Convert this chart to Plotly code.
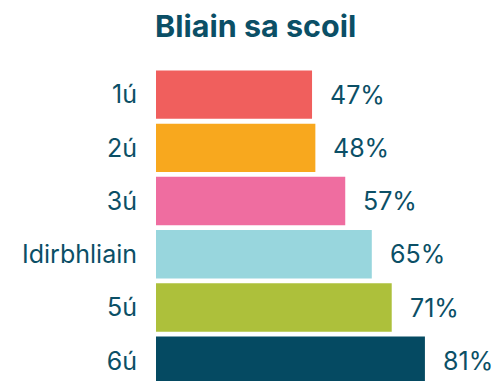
import plotly.graph_objects as go

# School-year categories and the share for each
years = ["1ú", "2ú", "3ú", "Idirbhliain", "5ú", "6ú"]
shares = [47, 48, 57, 65, 71, 81]
bar_colors = ["#F05F5D", "#F8A81E", "#EF6DA0", "#98D6DD", "#ADC03B", "#054A62"]

text_color = "#0B4F66"
font_family = "Inter, Roboto, sans-serif"

fig = go.Figure(
    go.Bar(
        x=shares,
        y=years,
        orientation="h",
        marker=dict(color=bar_colors, line=dict(width=0)),
        hoverinfo="skip",
    )
)

# Percentage labels just past the end of each bar
for yr, v in zip(years, shares):
    fig.add_annotation(
        x=v, y=yr, text=f"{v}%", showarrow=False,
        xanchor="left", yanchor="middle", xshift=16,
        font=dict(family=font_family, size=25, color=text_color),
    )

fig.update_layout(
    width=494,
    height=381,
    margin=dict(l=156, r=6, t=68, b=0),
    paper_bgcolor="white",
    plot_bgcolor="white",
    bargap=0.09,
    showlegend=False,
    title=dict(
        text="<b>Bliain sa scoil</b>",
        x=155 / 494, xref="container", xanchor="left",
        y=1 - 26 / 381, yref="container", yanchor="middle",
        font=dict(family=font_family, size=30.5, color=text_color),
    ),
    xaxis=dict(range=[0, 100], visible=False, fixedrange=True),
    yaxis=dict(
        categoryorder="array",
        categoryarray=years,
        range=[5.38, -0.5],
        showgrid=False, zeroline=False, showline=False,
        ticks="", ticklabelstandoff=18,
        tickfont=dict(family=font_family, size=25, color=text_color),
    ),
)

fig.write_html("out.html")
